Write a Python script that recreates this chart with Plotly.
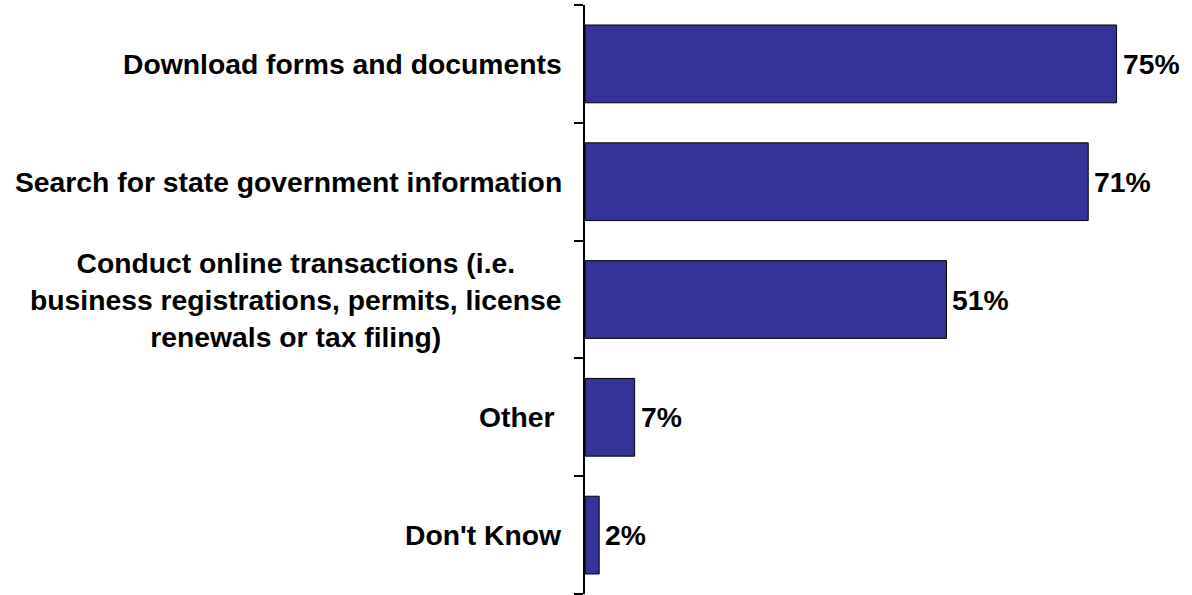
import plotly.graph_objects as go

categories = [
    "Download forms and documents",
    "Search for state government information",
    "Conduct online transactions (i.e.<br>business registrations, permits, license<br>renewals or tax filing)",
    "Other\u00a0",
    "Don't Know",
]
values = [75, 71, 51, 7, 2]
value_labels = ["75%", "71%", "51%", "7%", "2%"]

BAR_COLOR = "#333399"
FONT = "Arial, Liberation Sans, sans-serif"

fig = go.Figure()

fig.add_trace(
    go.Bar(
        x=values,
        y=categories,
        orientation="h",
        marker=dict(color=BAR_COLOR, line=dict(color="black", width=1)),
        hoverinfo="x+y",
        showlegend=False,
    )
)

# category labels (centred multi-line, right of them the axis)
for cat in categories:
    fig.add_annotation(
        x=0, xref="paper", y=cat, yref="y",
        text=f"<b>{cat}</b>",
        showarrow=False,
        xanchor="right", yanchor="middle",
        align="center",
        xshift=-21,
        font=dict(family=FONT, size=28.3, color="black"),
    )

# value labels
for cat, v, lab in zip(categories, values, value_labels):
    fig.add_annotation(
        x=v, y=cat,
        text=f"<b>{lab}</b>",
        showarrow=False,
        xanchor="left", yanchor="middle",
        xshift=4,
        font=dict(family=FONT, size=28.3, color="black"),
    )

fig.update_layout(
    width=1192,
    height=595,
    margin=dict(l=585, r=40, t=5, b=1),
    plot_bgcolor="white",
    paper_bgcolor="white",
    bargap=0.34,
    font=dict(family=FONT, color="black"),
)

fig.update_xaxes(
    range=[0, 80],
    visible=False,
    showgrid=False,
    zeroline=False,
)
fig.update_yaxes(
    categoryorder="array",
    categoryarray=categories[::-1],
    range=[-0.5, 4.5],
    showticklabels=False,
    showline=True,
    linecolor="black",
    linewidth=2,
    ticks="outside",
    tickson="boundaries",
    ticklen=9,
    tickwidth=2,
    tickcolor="black",
    showgrid=False,
    zeroline=False,
)

# drop the default page margin so the figure sits at the window corner
fig.write_html(
    "out.html",
    config={"displayModeBar": False},
    post_script="document.body.style.margin='0';",
)
